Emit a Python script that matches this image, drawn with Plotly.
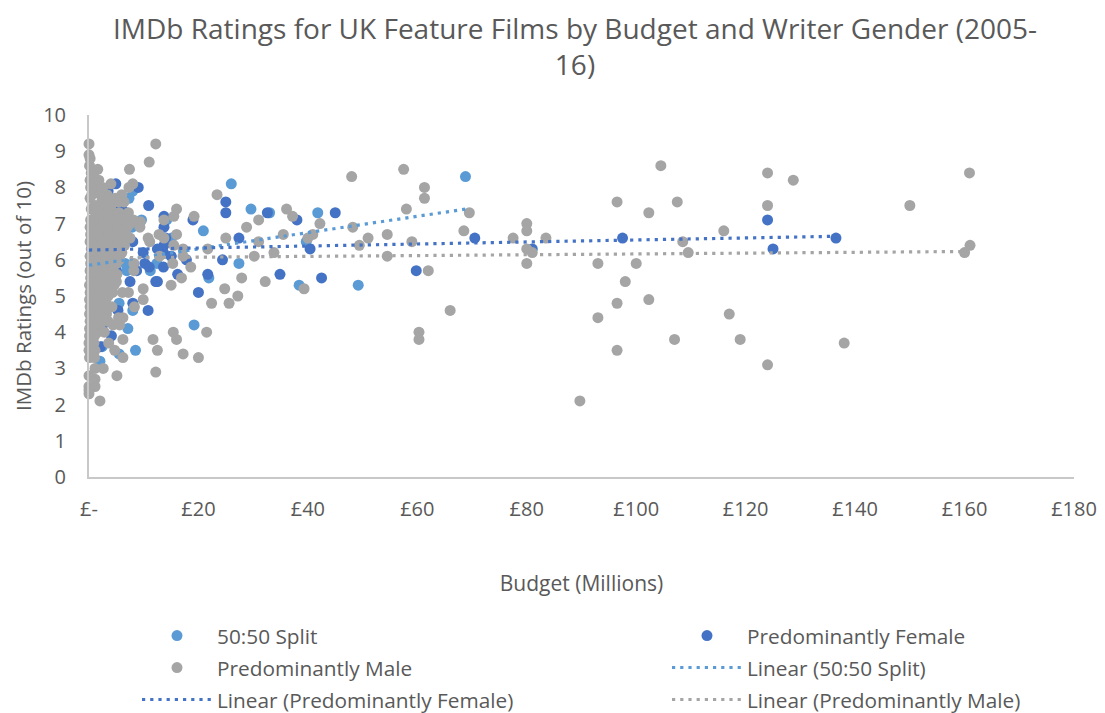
import plotly.graph_objects as go

TITLE = "IMDb Ratings for UK Feature Films by Budget and Writer Gender (2005-<br>16)"
x_ticks = [0, 20, 40, 60, 80, 100, 120, 140, 160, 180]
x_labels = ["£-", "£20", "£40", "£60", "£80", "£100", "£120", "£140", "£160", "£180"]
y_ticks = list(range(0, 11))

split_points = [
    (68.8,8.3),(26,8.1),(29.6,7.4),(41.8,7.3),(33,7.3),(20.9,6.8),(39.7,6.5),(27.4,5.9),(21.9,5.5),
    (38.4,5.3),(49.2,5.3),(19.2,4.2),(8.5,3.5),(7.1,4.1),(5.5,3.4),(2,3.2),(5.5,4.8),(8,4.6),(3.5,7.6),
    (7.3,7.7),(8,7.9),(6.5,6.6),(6.9,5.7),(6.6,5.9),(7.9,6.9),(9.6,7.1),(14.2,7.1),(15.1,6.6),(12.4,5.9),
    (11.2,5.7),(15,6.1),(4.7,6.9),(3,4.9),(2.8,5.4),(3.2,7.2),(1.5,6.4),(2.2,5.9),(1.2,4.4),(2.4,3.6),
]
female_points = [
    (136.5,6.6),(124,7.1),(125,6.3),(97.5,6.6),(81,6.3),(70.5,6.6),(59.8,5.7),(45,7.3),(42.5,5.5),(40.4,6.3),
    (38,7.1),(34.9,5.6),(32.6,7.3),(27.4,6.6),(25,7.6),(25,7.3),(24.4,6.0),(21.7,5.6),(20,5.1),(19,7.1),
    (13.7,7.2),(13.7,6.9),(13.7,6.4),(13.6,6.2),(13.6,5.8),(17.8,6.0),(15,6.1),(16.2,5.6),(12.2,5.4),
    (10.9,7.5),(4.9,8.1),(9,8.0),(4.7,7.5),(6,7.4),(6.8,7.3),(9.9,6.2),(8,6.5),(10.2,5.9),(11,5.8),
    (7.5,5.4),(12.5,5.4),(8.7,5.7),(8,4.8),(10.8,4.6),(5.3,4.6),(4.1,3.9),(2.1,3.6),(14,6.6),(12.5,6.3),
    (5.5,7.0),(4.5,6.2),(5,5.7),(3.5,5.2),(2.5,4.2),(3.5,7.9),
]
male_points = [
    (160.9,8.4),(150,7.5),(161,6.4),(160,6.2),(138,3.7),(128.7,8.2),(124,8.4),(124,7.5),(124,3.1),(119,3.8),
    (117,4.5),(116,6.8),(109.5,6.2),(108.5,6.5),(107.5,7.6),(107,3.8),(104.5,8.6),(102.3,7.3),(102.3,4.9),
    (100,5.9),(98,5.4),(96.5,7.6),(96.5,4.8),(96.5,3.5),(93,5.9),(93,4.4),(89.7,2.1),(83.5,6.6),(81,6.2),
    (80,7.0),(80,6.8),(80,6.3),(80,5.9),(77.5,6.6),(69.5,7.3),(68.5,6.8),(66,4.6),(62,5.7),(61.3,8.0),
    (61.3,7.7),(60.3,4.0),(60.3,3.8),(59,6.5),(58,7.4),(57.5,8.5),(54.5,6.7),(54.5,6.1),(51,6.6),(49.4,6.4),
    (48,8.3),(48.2,6.9),(42.2,7.0),(40.9,6.7),(40,6.6),(39.3,5.2),(37.2,7.2),(36.1,7.4),(35.5,6.7),(33.8,6.2),
    (32.2,5.4),(31,7.1),(31,6.5),(30.2,6.1),(28.8,6.9),(27.9,5.5),(27.2,5.0),(25.6,4.8),(25,6.6),(24.8,5.2),
    (23.4,7.8),(22.4,4.8),(21.7,6.3),(21.5,4.0),(20,3.3),(19.2,7.2),(18.6,5.8),(17.2,6.3),(17.2,6.1),(17.2,3.4),
    (16.9,5.5),(16,7.4),(16,6.7),(16,3.8),(15.5,7.2),(15.5,6.4),(15.4,4.0),(15.3,5.9),(15,5.3),(13.7,7.1),
    (13.7,6.6),(12.9,6.1),(12.8,6.7),(12.5,3.5),(12.2,9.2),(12.2,2.9),(11.7,3.8),(11.1,6.5),(11,8.7),(10.8,6.6),
    (9.9,5.2),(9.9,4.9),(9.4,7.05),(9.3,6.9),(8.3,4.7),(8.2,5.9),(8.2,5.7),(8.1,7.1),(8,8.1),(7.5,7.0),
    (7.5,6.6),(7.4,8.5),(7.3,8.0),(7.2,5.1),(6.6,7.1),(6.4,7.6),(6.2,4.4),(6.2,3.8),(6.2,3.3),(6.1,5.1),
    (6,7.8),(5.6,4.2),(5.4,4.4),(5.1,6.9),(5.1,5.6),(5.1,2.8),(4.7,3.5),(4.6,5.3),(4.4,7.3),(4.4,4.2),
    (4.2,4.7),(4,8.1),(3.8,7.1),(3.8,6.7),(3.6,3.7),(3.3,7.8),(3.2,4.5),(3.1,5.1),(3,4.8),(2.6,3.0),
    (2,2.1),(1.6,8.5),(1.1,3.0),(1.1,2.7),(1.1,2.5),(0,9.2),(0,8.9),(0.2,8.8),(0,2.8),(0,2.5),(0,2.4),(0,2.3),
    (0.1,8.6),(0.4,8.4),(0.9,8.3),(0.2,8.2),(1,8.1),(0.3,8.0),(1.4,7.9),(0.5,7.8),(2.1,7.8),(0.2,7.7),(2.3,7.6),
    (1.1,7.5),(3.1,7.5),(0.4,7.4),(2.4,7.4),(3.4,7.3),(1.2,7.2),(2.7,7.2),(4.2,7.2),(0.3,7.1),(1.9,7.1),
    (4.9,7.1),(0.8,7.0),(3,7.0),(4.1,7.0),(5.8,7.0),(0.2,6.9),(2,6.9),(3.6,6.9),(6.1,6.8),(1.1,6.8),(2.8,6.8),
    (4.6,6.8),(0.3,6.7),(2,6.7),(5.6,6.7),(1,6.6),(3.1,6.6),(4.4,6.6),(6.2,6.6),(0.2,6.5),(2.2,6.5),(3.6,6.5),
    (5.2,6.5),(1.2,6.4),(2.9,6.4),(4.4,6.4),(0.4,6.3),(2,6.3),(3.6,6.3),(5.6,6.3),(1.1,6.2),(2.7,6.2),(4.5,6.2),
    (0.2,6.1),(1.9,6.1),(3.4,6.1),(5,6.1),(1,6.0),(2.6,6.0),(4.1,6.0),(0.3,5.9),(1.8,5.9),(3.3,5.9),(0.9,5.8),
    (2.5,5.8),(3.9,5.8),(0.2,5.7),(1.6,5.7),(3,5.7),(0.8,5.6),(2.2,5.6),(3.5,5.6),(0.3,5.5),(1.5,5.5),(2.8,5.5),
    (0.7,5.4),(2,5.4),(0.1,5.3),(1.3,5.3),(2.5,5.3),(0.6,5.2),(1.8,5.2),(0.2,5.1),(1.2,5.1),(2.2,5.1),(0.7,5.0),
    (1.6,5.0),(0.1,4.9),(1.2,4.9),(2.2,4.9),(0.6,4.8),(1.6,4.8),(0.2,4.7),(1.2,4.7),(2.2,4.6),(0.7,4.6),(0.1,4.5),
    (1.4,4.5),(0.6,4.4),(2,4.4),(0.2,4.3),(1.3,4.3),(0.7,4.2),(2,4.2),(0.1,4.1),(1.2,4.1),(0.6,4.0),(1.6,4.0),
    (0.1,3.9),(1,3.9),(0.5,3.8),(0,3.7),(0.9,3.7),(0.4,3.6),(1.1,3.5),(0,3.5),(0.6,3.4),(0.1,3.3),(1,3.3),
    (5.5,7.3),(6.5,7.2),(7,6.9),(6.8,6.7),(5,5.9),(4.5,5.5),(4,5.3),(4.2,5.8),(3.5,5.0),(3,4.6),(3.5,4.3),
    (2.8,4.0),(2.6,4.4),(5.5,6.0),(6,6.2),(6.5,6.4),(4,7.5),(3.5,7.65),(2.5,8.0),(1.8,8.2),(4.8,6.0),(4.3,5.1),
    (5.4,7.6),(4.8,7.7),(7.2,7.3),(3,6.2),(5,5.4),(2.4,4.7),
    (1.5,7.35),(2.9,7.05),(3.6,7.15),(4.6,6.95),(1.5,6.75),(3.5,6.75),(5.3,6.85),(2.6,6.55),(3.7,6.6),(5.3,6.65),
    (1.6,6.35),(3.6,6.4),(5.1,6.35),(2.4,6.15),(3.8,6.15),(1.4,5.95),(2.8,5.95),(4.6,5.85),(1.2,5.65),(2.6,5.65),
    (4,5.55),(1.1,5.35),(3.1,5.35),(1.2,5.05),(2.7,5.1),(0.9,4.75),(1.8,4.55),(0.9,4.25),(1,3.95),(0.5,3.45),
]
trend_split_x, trend_split_y = [0, 68.8], [5.85, 7.4]
trend_female_x, trend_female_y = [0, 136.5], [6.27, 6.65]
trend_male_x, trend_male_y = [0, 160.9], [6.05, 6.23]

BLUE, DARK, GREY, TEXT = "#5B9BD5", "#4472C4", "#A5A5A5", "#595959"
OFF = 8  # the page body offsets the figure
W, H = 1105, 713
L, RIGHT, T, BOTTOM = 89 - OFF, 1074 - OFF, 115 - OFF, 477 - OFF
PW, PH = RIGHT - L, BOTTOM - T
FONT = "Open Sans"


def fx(px):
    return (px - OFF - L) / PW


def fy(py):
    return (BOTTOM - (py - OFF)) / PH


fig = go.Figure()
for name, pts, col, lg in [("50:50 Split", split_points, BLUE, "legend"),
                           ("Predominantly Female", female_points, DARK, "legend2"),
                           ("Predominantly Male", male_points, GREY, "legend3")]:
    fig.add_trace(go.Scatter(x=[p[0] for p in pts], y=[p[1] for p in pts], mode="markers", name=name,
                             legend=lg, cliponaxis=False, showlegend=True,
                             marker=dict(color=col, size=11, line=dict(width=0))))
for name, xs, ys, col, lg in [("Linear (50:50 Split)", trend_split_x, trend_split_y, BLUE, "legend4"),
                              ("Linear (Predominantly Female)", trend_female_x, trend_female_y, DARK, "legend5"),
                              ("Linear (Predominantly Male)", trend_male_x, trend_male_y, GREY, "legend6")]:
    fig.add_trace(go.Scatter(x=xs, y=ys, mode="lines", name=name, legend=lg, cliponaxis=False, showlegend=True,
                             line=dict(color=col, width=3.2, dash="3.2px,5px")))


def lgd(px, py):
    return dict(x=fx(px), y=fy(py), xanchor="left", yanchor="middle", bgcolor="rgba(0,0,0,0)",
                itemwidth=70, borderwidth=0, font=dict(family=FONT, size=20.8, color=TEXT),
                itemclick=False, itemdoubleclick=False)


fig.update_layout(
    width=W, height=H, autosize=False, showlegend=True,
    margin=dict(l=L, r=W - RIGHT, t=T, b=H - BOTTOM, autoexpand=False),
    plot_bgcolor="white", paper_bgcolor="white",
    font=dict(family=FONT, color=TEXT),
    title=dict(text=TITLE, x=567 / W, xanchor="center", xref="container", y=1 - 31 / H, yanchor="middle",
               font=dict(family=FONT, size=28, color=TEXT)),
    xaxis=dict(range=[0, 180], tickvals=x_ticks, ticktext=x_labels, showgrid=False, zeroline=False,
               automargin=False,
               showline=True, linecolor="#C8C8C8", linewidth=2, ticks="", ticklabelstandoff=13,
               tickfont=dict(family=FONT, size=20, color=TEXT),
               title=dict(text="Budget (Millions)", standoff=55, font=dict(family=FONT, size=21, color=TEXT))),
    yaxis=dict(range=[0, 10], tickvals=y_ticks, showgrid=False, zeroline=False,
               automargin=False,
               showline=True, linecolor="#C8C8C8", linewidth=2, ticks="", ticklabelstandoff=17,
               tickfont=dict(family=FONT, size=20, color=TEXT),
               title=dict(text="IMDb Ratings (out of 10)", standoff=6, font=dict(family=FONT, size=20.5, color=TEXT))),
    legend=lgd(137, 636), legend2=lgd(667, 636), legend3=lgd(137, 668),
    legend4=lgd(667, 668), legend5=lgd(137, 700), legend6=lgd(667, 700),
)
fig.write_html("out.html")
